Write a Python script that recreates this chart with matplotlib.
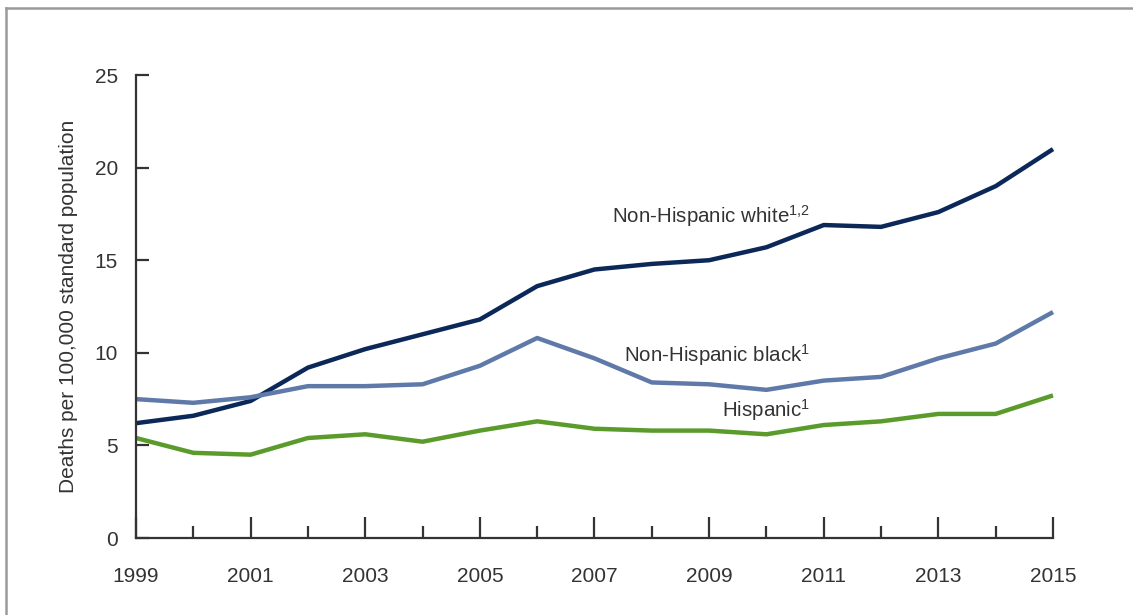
import matplotlib
matplotlib.use("Agg")
import matplotlib.pyplot as plt
from matplotlib.lines import Line2D

plt.rcParams['font.family'] = ['Liberation Sans', 'DejaVu Sans']
plt.rcParams['mathtext.fontset'] = 'custom'
plt.rcParams['mathtext.rm'] = 'Liberation Sans'
plt.rcParams['mathtext.it'] = 'Liberation Sans'

years = list(range(1999, 2016))
white = [6.2, 6.6, 7.4, 9.2, 10.2, 11.0, 11.8, 13.6, 14.5, 14.8, 15.0, 15.7, 16.9, 16.8, 17.6, 19.0, 21.0]
black = [7.5, 7.3, 7.6, 8.2, 8.2, 8.3, 9.3, 10.8, 9.7, 8.4, 8.3, 8.0, 8.5, 8.7, 9.7, 10.5, 12.2]
hispanic = [5.4, 4.6, 4.5, 5.4, 5.6, 5.2, 5.8, 6.3, 5.9, 5.8, 5.8, 5.6, 6.1, 6.3, 6.7, 6.7, 7.7]
x_tick_labels = [str(y) for y in range(1999, 2016, 2)]
y_ticks = [0, 5, 10, 15, 20, 25]

c_white = '#0b2859'
c_black = '#5f7aa8'
c_hisp = '#5b9b2b'

fig = plt.figure(figsize=(11.33, 6.15), dpi=100)
ax = fig.add_axes([0.12, 0.1252, 0.8094, 0.7528])

ax.plot(years, white, color=c_white, lw=3.2, clip_on=False, solid_capstyle='butt')
ax.plot(years, black, color=c_black, lw=3.2, clip_on=False, solid_capstyle='butt')
ax.plot(years, hispanic, color=c_hisp, lw=3.2, clip_on=False, solid_capstyle='butt')

ax.set_xlim(1999, 2015)
ax.set_ylim(0, 25)
for s in ['top', 'right']:
    ax.spines[s].set_visible(False)
for s in ['left', 'bottom']:
    ax.spines[s].set_linewidth(1.6)
    ax.spines[s].set_color('#333333')

ax.set_xticks(list(range(1999, 2016, 2)))
ax.set_xticklabels(x_tick_labels)
ax.set_xticks(list(range(2000, 2015, 2)), minor=True)
ax.tick_params(axis='x', which='major', direction='in', length=15, width=1.6, color='#333333',
               labelsize=15, pad=21, labelcolor='#333333')
ax.tick_params(axis='x', which='minor', direction='in', length=9, width=1.6, color='#333333')
ax.set_yticks(y_ticks)
ax.tick_params(axis='y', direction='in', length=9, width=1.6, color='#333333',
               labelsize=15, pad=13, labelcolor='#333333')
ax.set_ylabel('Deaths per 100,000 standard population', fontsize=15, color='#333333', labelpad=12)

ax.text(2010.76, 17.4, 'Non-Hispanic white$^{1{,}2}$', ha='right', va='center', fontsize=14.8, color='#333333')
ax.text(2010.76, 9.9, 'Non-Hispanic black$^{1}$', ha='right', va='center', fontsize=14.8, color='#333333')
ax.text(2010.76, 6.9, 'Hispanic$^{1}$', ha='right', va='center', fontsize=14.8, color='#333333')

# figure border (top and left)
fig.add_artist(Line2D([6/1133, 1.0], [1 - 8/615, 1 - 8/615], transform=fig.transFigure, color='#9a9a9a', lw=1.8))
fig.add_artist(Line2D([6/1133, 6/1133], [0, 1 - 8/615], transform=fig.transFigure, color='#9a9a9a', lw=1.8))

fig.savefig('out.png', dpi=100)
